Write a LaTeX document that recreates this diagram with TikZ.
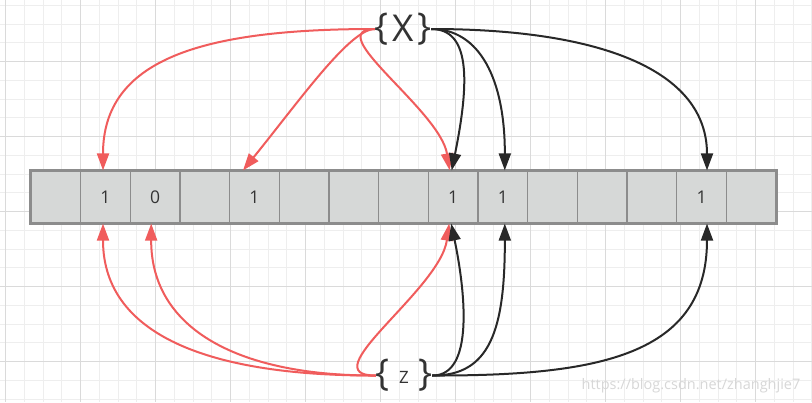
\documentclass[tikz,border=0pt]{standalone}
\usepackage{fontspec}
\setmainfont{Open Sans}
\usetikzlibrary{arrows.meta}

\definecolor{hitred}{RGB}{240,92,92}
\definecolor{hitblack}{RGB}{40,40,40}
\definecolor{cellgray}{RGB}{214,216,215}
\definecolor{cellline}{RGB}{140,140,140}
\definecolor{gridminor}{RGB}{238,238,238}
\definecolor{gridmajor}{RGB}{218,218,218}
\definecolor{textgray}{RGB}{51,51,51}

\begin{document}
\begin{tikzpicture}[x=1pt,y=-1pt,
  cell/.style={draw=cellline,line width=1.2pt,fill=cellgray,minimum width=49.67pt,minimum height=52pt,inner sep=0pt,text=textgray,font=\fontsize{17.5}{18}\selectfont},
  brc/.style={inner sep=0pt,text=textgray,font=\fontsize{37}{37}\selectfont},
  redarc/.style={->,hitred,line width=2pt,>={Triangle[length=17pt,width=12pt]}},
  blackarc/.style={->,hitblack,line width=2pt,>={Triangle[length=17pt,width=12pt]}}]
\useasboundingbox (0,0) rectangle (812,402);
\fill[white] (0,0) rectangle (812,402);

% background grid
\foreach \k in {0,...,43} \draw[gridminor,line width=1pt] ({5.7+18.75*\k},0) -- ({5.7+18.75*\k},402);
\foreach \k in {0,...,21} \draw[gridminor,line width=1pt] (0,{5.45+18.75*\k}) -- (812,{5.45+18.75*\k});
\foreach \k in {0,...,10} \draw[gridmajor,line width=1pt] ({5.7+75*\k},0) -- ({5.7+75*\k},402);
\foreach \k in {0,...,4} \draw[gridmajor,line width=1pt] (0,{61.7+75*\k}) -- (812,{61.7+75*\k});

% the bit array
\node[cell] (c1) at (55.8,197) {};
\node[cell] (c2) at (105.5,197) {1};
\node[cell] (c3) at (155.2,197) {0};
\node[cell] (c4) at (204.8,197) {};
\node[cell] (c5) at (254.5,197) {1};
\node[cell] (c6) at (304.2,197) {};
\node[cell] (c7) at (353.8,197) {};
\node[cell] (c8) at (403.5,197) {};
\node[cell] (c9) at (453.2,197) {1};
\node[cell] (c10) at (502.8,197) {1};
\node[cell] (c11) at (552.5,197) {};
\node[cell] (c12) at (602.2,197) {};
\node[cell] (c13) at (651.8,197) {};
\node[cell] (c14) at (701.5,197) {1};
\node[cell] (c15) at (751.2,197) {};
\draw[cellline,line width=2.4pt] (c1.north west) rectangle (c15.south east);

% the two elements
\node[brc] (x) at (403,29) {\{\makebox[28pt]{\raisebox{-2pt}{X}}\}};
\node[brc] (z) at (404,375.5) {\{\makebox[28pt]{\raisebox{2pt}{\fontsize{17}{17}\selectfont Z}}\}};

% hashes of X
\draw[redarc] (x.west) .. controls (200,29) and (103,60) .. ([xshift=-2.5pt]c2.north);
\draw[redarc] (x.west) .. controls (350,29) and (300,100) .. ([xshift=-11.5pt]c5.north);
\draw[redarc] (x.west) .. controls (320,30) and (440,110) .. ([xshift=-3.5pt]c9.north);
\draw[blackarc] (x.east) .. controls (470,29) and (470,80) .. ([xshift=-1.5pt]c9.north);
\draw[blackarc] (x.east) .. controls (480,29) and (505,80) .. ([xshift=2pt]c10.north);
\draw[blackarc] (x.east) .. controls (600,29) and (707,70) .. ([xshift=5.5pt]c14.north);

% hashes of Z
\draw[redarc] (z.west) .. controls (220,376) and (103,340) .. ([xshift=-2.5pt]c2.south);
\draw[redarc] (z.west) .. controls (240,376) and (151,330) .. ([xshift=-4pt]c3.south);
\draw[redarc] (z.west) .. controls (310,376) and (440,290) .. ([xshift=-4pt]c9.south);
\draw[blackarc] (z.east) .. controls (475,376) and (465,290) .. ([xshift=-2pt]c9.south);
\draw[blackarc] (z.east) .. controls (490,376) and (505,330) .. ([xshift=2pt]c10.south);
\draw[blackarc] (z.east) .. controls (600,376) and (707,355) .. ([xshift=5.5pt]c14.south);

\node[text={rgb,255:red,215;green,215;blue,215},font=\fontsize{14.5}{14.5}\selectfont] (wm) at (691,386) {https://blog.csdn.net/zhanghjie7};
\end{tikzpicture}
\end{document}
